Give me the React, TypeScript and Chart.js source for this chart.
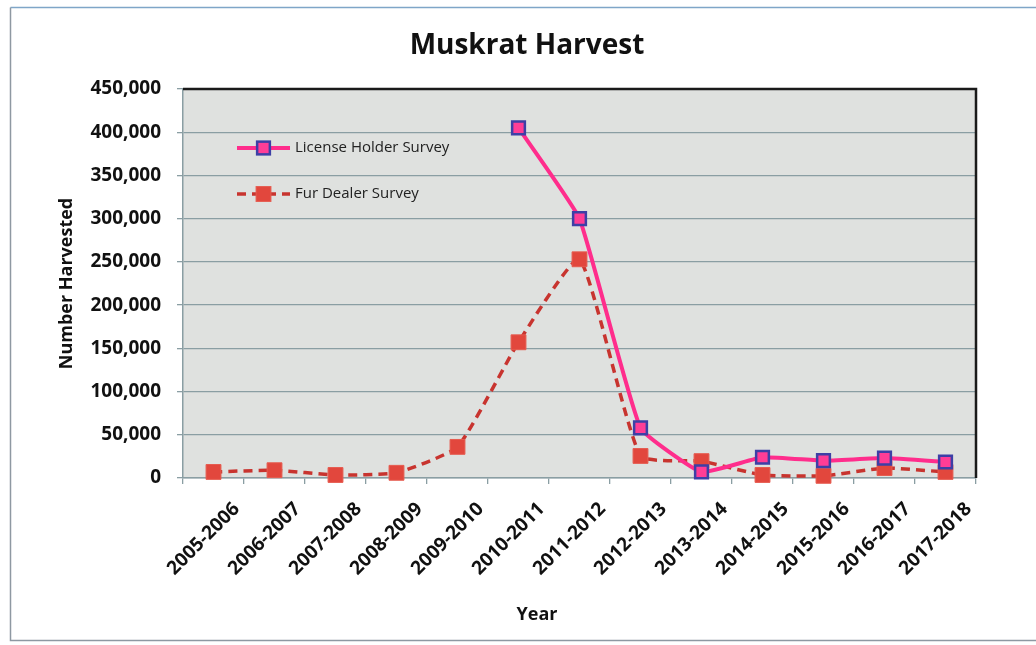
import React, { useEffect, useRef } from "react";
import { Chart, registerables } from "chart.js";

Chart.register(...registerables);

const seasons = [
  "2005-2006", "2006-2007", "2007-2008", "2008-2009", "2009-2010", "2010-2011", "2011-2012",
  "2012-2013", "2013-2014", "2014-2015", "2015-2016", "2016-2017", "2017-2018",
];
const licenseHolderSurvey = [null, null, null, null, null, 405000, 300000, 58000, 7000, 24000, 20000, 23000, 18500];
const furDealerSurvey = [7000, 9000, 3500, 6000, 36000, 157000, 253000, 25500, 19500, 3500, 2500, 11500, 7000];
const seriesNames = ["License Holder Survey", "Fur Dealer Survey"];
const chartTitle = "Muskrat Harvest";
const xTitle = "Year";
const yTitle = "Number Harvested";
const yMin = 0;
const yMax = 450000;
const yStep = 50000;

const FONT = '"Open Sans", "Noto Sans", sans-serif';

const decorPlugin = {
  id: "decor",
  beforeDraw(chart: any) {
    const { ctx, chartArea: a } = chart;
    ctx.save();
    ctx.fillStyle = "#ffffff";
    ctx.fillRect(0, 0, chart.width, chart.height);
    // outer frame
    ctx.lineWidth = 1.5;
    ctx.strokeStyle = "#7fa6c8";
    ctx.beginPath();
    ctx.moveTo(10.5, 7.5);
    ctx.lineTo(1040, 7.5);
    ctx.stroke();
    ctx.strokeStyle = "#8e98a2";
    ctx.beginPath();
    ctx.moveTo(10.5, 7.5);
    ctx.lineTo(10.5, 640.5);
    ctx.lineTo(1040, 640.5);
    ctx.stroke();
    // plot background
    ctx.fillStyle = "#dfe1df";
    ctx.fillRect(a.left, a.top, a.right - a.left, a.bottom - a.top);
    ctx.restore();
  },
  afterDraw(chart: any) {
    const { ctx, chartArea: a } = chart;
    ctx.save();
    // plot border top & right
    ctx.strokeStyle = "#1a1a1a";
    ctx.lineWidth = 2.5;
    ctx.beginPath();
    ctx.moveTo(a.left, a.top);
    ctx.lineTo(a.right, a.top);
    ctx.lineTo(a.right, a.bottom);
    ctx.stroke();

    // title
    ctx.fillStyle = "#111111";
    ctx.textAlign = "center";
    ctx.textBaseline = "middle";
    ctx.font = `bold 28px ${FONT}`;
    ctx.fillText(chartTitle, 527, 46);
    // x title
    ctx.font = `bold 18px ${FONT}`;
    ctx.fillText(xTitle, 537, 615);

    // legend inside plot
    const ds = chart.data.datasets;
    const rows = [a.top + 59, a.top + 105];
    ds.forEach((d: any, i: number) => {
      const y = rows[i];
      const x0 = a.left + 54;
      const x1 = a.left + 107;
      const xm = (x0 + x1) / 2;
      ctx.save();
      ctx.strokeStyle = d.borderColor;
      ctx.lineWidth = d.borderWidth;
      ctx.setLineDash(d.borderDash || []);
      ctx.beginPath();
      ctx.moveTo(x0, y);
      ctx.lineTo(x1, y);
      ctx.stroke();
      ctx.setLineDash([]);
      const s = d.pointRadius * Math.SQRT1_2;
      ctx.fillStyle = d.pointBackgroundColor;
      ctx.fillRect(xm - s, y - s, 2 * s, 2 * s);
      if (d.pointBorderWidth) {
        ctx.strokeStyle = d.pointBorderColor;
        ctx.lineWidth = d.pointBorderWidth;
        ctx.strokeRect(xm - s, y - s, 2 * s, 2 * s);
      }
      ctx.restore();
      ctx.fillStyle = "#222222";
      ctx.textAlign = "left";
      ctx.textBaseline = "middle";
      ctx.font = `15px ${FONT}`;
      ctx.fillText(d.label, a.left + 112, y);
    });
    ctx.restore();
  },
};

export default function App() {
  const ref = useRef<HTMLCanvasElement | null>(null);

  useEffect(() => {
    document.body.style.margin = "0";
    document.body.style.overflow = "hidden";
    const canvas = ref.current;
    if (!canvas) return;
    const gridColor = "#8a9ea3";
    const chart = new Chart(canvas, {
      type: "line",
      data: {
        labels: seasons,
        datasets: [
          {
            label: seriesNames[0],
            data: licenseHolderSurvey,
            borderColor: "#ff2d8c",
            borderWidth: 4,
            tension: 0.12,
            pointStyle: "rect",
            pointRadius: 9,
            pointBackgroundColor: "#ff3d96",
            pointBorderColor: "#3d3fa6",
            pointBorderWidth: 2.5,
            clip: false,
          } as any,
          {
            label: seriesNames[1],
            data: furDealerSurvey,
            borderColor: "#c8342f",
            borderWidth: 3.5,
            borderDash: [9, 6],
            tension: 0.15,
            pointStyle: "rect",
            pointRadius: 10.5,
            pointBackgroundColor: "#e2473d",
            pointBorderColor: "#e65b4f",
            pointBorderWidth: 1,
            clip: false,
          } as any,
        ],
      },
      options: {
        responsive: false,
        animation: false,
        layout: { padding: { left: 0, right: 60, top: 89, bottom: 0 } },
        plugins: {
          legend: { display: false },
          title: { display: false },
          tooltip: { enabled: false },
        },
        scales: {
          x: {
            offset: true,
            afterFit: (scale: any) => {
              scale.height = 167;
            },
            grid: {
              display: true,
              drawOnChartArea: false,
              drawTicks: true,
              tickLength: 6,
              offset: true,
              color: gridColor,
              lineWidth: 1.3,
            },
            border: { display: true, color: gridColor, width: 1.5 },
            ticks: {
              autoSkip: false,
              maxRotation: 45,
              minRotation: 45,
              labelOffset: 23,
              padding: 14,
              color: "#111111",
              font: { family: FONT, size: 19, weight: "bold" },
            },
          },
          y: {
            min: yMin,
            max: yMax,
            afterFit: (scale: any) => {
              scale.width = 183;
            },
            grid: {
              color: gridColor,
              lineWidth: 1.3,
              tickLength: 6,
            },
            border: { display: true, color: gridColor, width: 1.5 },
            ticks: {
              stepSize: yStep,
              padding: 16,
              color: "#111111",
              font: { family: FONT, size: 19, weight: "bold" },
              callback: (v: any) => Number(v).toLocaleString("en-US"),
            },
            title: {
              display: true,
              text: yTitle,
              color: "#111111",
              padding: { top: 56, bottom: 0 },
              font: { family: FONT, size: 18, weight: "bold" },
            },
          },
        },
      },
      plugins: [decorPlugin],
    });
    return () => chart.destroy();
  }, []);

  return (
    <div style={{ width: 1036, height: 645 }}>
      <canvas ref={ref} width={1036} height={645} style={{ display: "block" }} />
    </div>
  );
}
